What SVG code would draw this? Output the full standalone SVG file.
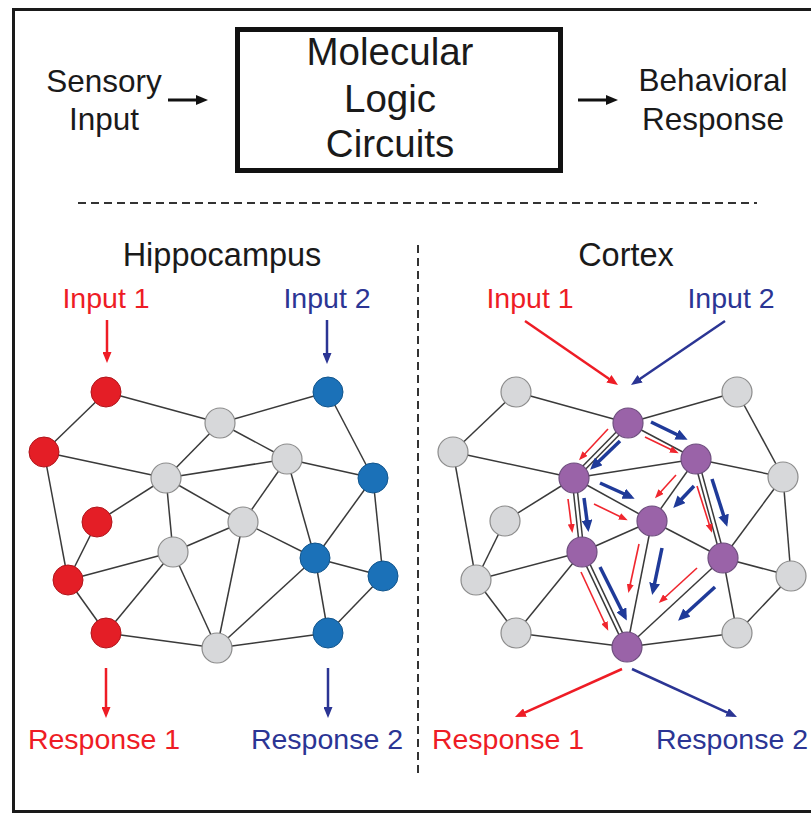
<svg xmlns="http://www.w3.org/2000/svg" width="811" height="815" viewBox="0 0 811 815">
<style>
text{font-family:"Liberation Sans",Arial,sans-serif;text-anchor:middle}
.big{font-size:38.5px;fill:#1a1a1a}
.side{font-size:31.5px;fill:#1a1a1a}
.head{font-size:32.5px;fill:#1a1a1a}
.lr{font-size:28.5px;fill:#ee1c25}
.lb{font-size:28.5px;fill:#2b3594}
.e{stroke:#3a3a3a;stroke-width:1.5;fill:none}
.dbo{stroke:#3a3a3a;stroke-width:5.5;fill:none}
.dbi{stroke:#fff;stroke-width:2.5;fill:none}
.r{fill:#e41e26;stroke:#b0151b;stroke-width:1}
.b{fill:#1b71b8;stroke:#12558c;stroke-width:1}
.g{fill:#d7d8da;stroke:#8c8c8c;stroke-width:1.2}
.p{fill:#9a63a8;stroke:#6e4e7e;stroke-width:1.2}
.ar{stroke:#f0262e;stroke-width:1.6;fill:none;marker-end:url(#mr)}
.ab{stroke:#1f3a99;stroke-width:3.5;fill:none;marker-end:url(#mb)}
.ir{stroke:#ee1c25;stroke-width:2.5;fill:none;marker-end:url(#mir)}
.ib{stroke:#2b3594;stroke-width:2.5;fill:none;marker-end:url(#mib)}
.ak{stroke:#111;stroke-width:3;fill:none;marker-end:url(#mk)}
</style>
<defs>
<marker id="mr" markerUnits="userSpaceOnUse" markerWidth="9" markerHeight="7" refX="6" refY="3.5" orient="auto"><path d="M0,0 L9,3.5 L0,7 z" fill="#f0262e"/></marker>
<marker id="mb" markerUnits="userSpaceOnUse" markerWidth="12" markerHeight="11" refX="8" refY="5.5" orient="auto"><path d="M0,0 L12,5.5 L0,11 z" fill="#1f3a99"/></marker>
<marker id="mir" markerUnits="userSpaceOnUse" markerWidth="11" markerHeight="9" refX="7" refY="4.5" orient="auto"><path d="M0,0 L11,4.5 L0,9 z" fill="#ee1c25"/></marker>
<marker id="mib" markerUnits="userSpaceOnUse" markerWidth="11" markerHeight="9" refX="7" refY="4.5" orient="auto"><path d="M0,0 L11,4.5 L0,9 z" fill="#2b3594"/></marker>
<marker id="mk" markerUnits="userSpaceOnUse" markerWidth="12" markerHeight="10" refX="6" refY="5" orient="auto"><path d="M0,0 L12,5 L0,10 z" fill="#111"/></marker>
</defs>
<rect x="0" y="0" width="811" height="815" fill="#fff"/>
<rect x="13.5" y="9.5" width="830" height="802" fill="none" stroke="#1a1a1a" stroke-width="3"/>

<g id="top">
<g id="sensory"><text class="side" x="104" y="92">Sensory</text><text class="side" x="104" y="130">Input</text></g>
<g id="box"><rect x="237.5" y="29.5" width="323" height="141" fill="none" stroke="#111" stroke-width="5"/>
<text class="big" x="390" y="65">Molecular</text><text class="big" x="390" y="112">Logic</text><text class="big" x="390" y="157">Circuits</text></g>
<g id="behavior"><text class="side" x="713" y="91">Behavioral</text><text class="side" x="713" y="130">Response</text></g>
</g>

<g id="dividers" stroke="#333" stroke-width="2" stroke-dasharray="8,5" fill="none">
<line x1="78" y1="203" x2="757" y2="203"/>
<line x1="418" y1="245" x2="418" y2="775"/>
</g>

<g id="titles">
<text class="head" x="222" y="266">Hippocampus</text>
<text class="head" x="626" y="266">Cortex</text>
</g>

<g id="connectors">
<line class="ak" x1="168" y1="100" x2="202" y2="100"/>
<line class="ak" x1="578" y1="100" x2="612" y2="100"/>
<g id="hippo-edges">
<line class="e" x1="106" y1="392" x2="220" y2="423"/>
<line class="e" x1="106" y1="392" x2="44" y2="452"/>
<line class="e" x1="44" y1="452" x2="166" y2="478"/>
<line class="e" x1="44" y1="452" x2="68" y2="580"/>
<line class="e" x1="97" y1="522" x2="166" y2="478"/>
<line class="e" x1="97" y1="522" x2="68" y2="580"/>
<line class="e" x1="68" y1="580" x2="173" y2="552"/>
<line class="e" x1="68" y1="580" x2="106" y2="633"/>
<line class="e" x1="106" y1="633" x2="173" y2="552"/>
<line class="e" x1="106" y1="633" x2="217" y2="648"/>
<line class="e" x1="220" y1="423" x2="328" y2="392"/>
<line class="e" x1="220" y1="423" x2="166" y2="478"/>
<line class="e" x1="220" y1="423" x2="287" y2="459"/>
<line class="e" x1="166" y1="478" x2="287" y2="459"/>
<line class="e" x1="166" y1="478" x2="243" y2="522"/>
<line class="e" x1="166" y1="478" x2="173" y2="552"/>
<line class="e" x1="287" y1="459" x2="373" y2="478"/>
<line class="e" x1="287" y1="459" x2="243" y2="522"/>
<line class="e" x1="287" y1="459" x2="315" y2="558"/>
<line class="e" x1="243" y1="522" x2="173" y2="552"/>
<line class="e" x1="243" y1="522" x2="315" y2="558"/>
<line class="e" x1="243" y1="522" x2="217" y2="648"/>
<line class="e" x1="173" y1="552" x2="217" y2="648"/>
<line class="e" x1="217" y1="648" x2="315" y2="558"/>
<line class="e" x1="217" y1="648" x2="328" y2="633"/>
<line class="e" x1="328" y1="392" x2="373" y2="478"/>
<line class="e" x1="373" y1="478" x2="315" y2="558"/>
<line class="e" x1="373" y1="478" x2="383" y2="576"/>
<line class="e" x1="315" y1="558" x2="383" y2="576"/>
<line class="e" x1="315" y1="558" x2="328" y2="633"/>
<line class="e" x1="383" y1="576" x2="328" y2="633"/>
</g>
<g id="cortex-edges">
<line class="e" x1="516" y1="392" x2="628" y2="423"/>
<line class="e" x1="516" y1="392" x2="453" y2="452"/>
<line class="e" x1="453" y1="452" x2="574" y2="478"/>
<line class="e" x1="453" y1="452" x2="476" y2="580"/>
<line class="e" x1="505" y1="521" x2="574" y2="478"/>
<line class="e" x1="505" y1="521" x2="476" y2="580"/>
<line class="e" x1="476" y1="580" x2="582" y2="552"/>
<line class="e" x1="476" y1="580" x2="516" y2="633"/>
<line class="e" x1="516" y1="633" x2="582" y2="552"/>
<line class="e" x1="516" y1="633" x2="627" y2="647"/>
<line class="e" x1="628" y1="423" x2="737" y2="392"/>
<line class="e" x1="628" y1="423" x2="696" y2="459"/>
<line class="e" x1="574" y1="478" x2="696" y2="459"/>
<line class="e" x1="574" y1="478" x2="652" y2="521"/>
<line class="e" x1="696" y1="459" x2="783" y2="477"/>
<line class="e" x1="696" y1="459" x2="652" y2="521"/>
<line class="e" x1="652" y1="521" x2="582" y2="552"/>
<line class="e" x1="652" y1="521" x2="723" y2="558"/>
<line class="e" x1="652" y1="521" x2="627" y2="647"/>
<line class="e" x1="627" y1="647" x2="723" y2="558"/>
<line class="e" x1="627" y1="647" x2="737" y2="633"/>
<line class="e" x1="737" y1="392" x2="783" y2="477"/>
<line class="e" x1="783" y1="477" x2="723" y2="558"/>
<line class="e" x1="783" y1="477" x2="791" y2="576"/>
<line class="e" x1="723" y1="558" x2="791" y2="576"/>
<line class="e" x1="723" y1="558" x2="737" y2="633"/>
<line class="e" x1="791" y1="576" x2="737" y2="633"/>
<line class="dbo" x1="628" y1="423" x2="574" y2="478"/>
<line class="dbo" x1="574" y1="478" x2="582" y2="552"/>
<line class="dbo" x1="696" y1="459" x2="723" y2="558"/>
<line class="dbo" x1="582" y1="552" x2="627" y2="647"/>
<line class="dbi" x1="628" y1="423" x2="574" y2="478"/>
<line class="dbi" x1="574" y1="478" x2="582" y2="552"/>
<line class="dbi" x1="696" y1="459" x2="723" y2="558"/>
<line class="dbi" x1="582" y1="552" x2="627" y2="647"/>
</g>
<g id="flow-blue">
<line class="ab" x1="651" y1="422" x2="684" y2="438"/>
<line class="ab" x1="620" y1="441" x2="593" y2="467"/>
<line class="ab" x1="600" y1="483" x2="631" y2="497"/>
<line class="ab" x1="584" y1="498" x2="588" y2="528"/>
<line class="ab" x1="694" y1="486" x2="676" y2="505"/>
<line class="ab" x1="712" y1="479" x2="726" y2="523"/>
<line class="ab" x1="662" y1="548" x2="653" y2="591"/>
<line class="ab" x1="715" y1="587" x2="681" y2="618"/>
<line class="ab" x1="600" y1="567" x2="625" y2="617"/>
</g>
<g id="flow-red">
<line class="ar" x1="645" y1="437" x2="676" y2="452"/>
<line class="ar" x1="608" y1="429" x2="581" y2="458"/>
<line class="ar" x1="594" y1="504" x2="625" y2="519"/>
<line class="ar" x1="568" y1="499" x2="572" y2="530"/>
<line class="ar" x1="676" y1="475" x2="657" y2="496"/>
<line class="ar" x1="697" y1="486" x2="711" y2="530"/>
<line class="ar" x1="639" y1="544" x2="629" y2="590"/>
<line class="ar" x1="697" y1="568" x2="661" y2="601"/>
<line class="ar" x1="581" y1="572" x2="607" y2="628"/>
</g>
<line class="ir" x1="107" y1="320" x2="107" y2="359"/>
<line class="ib" x1="327" y1="320" x2="327" y2="360"/>
<line class="ir" x1="106" y1="668" x2="106" y2="714"/>
<line class="ib" x1="328" y1="668" x2="328" y2="714"/>
<line class="ir" x1="525" y1="321" x2="614.7" y2="382.7"/>
<line class="ib" x1="725" y1="321" x2="634.3" y2="382.7"/>
<line class="ir" x1="622" y1="669" x2="518.6" y2="715.4"/>
<line class="ib" x1="632" y1="669" x2="733.4" y2="715.3"/>
</g>

<g id="hippo-nodes">
<g id="h-r1"><circle class="r" cx="106" cy="392" r="15"/></g>
<g id="h-r2"><circle class="r" cx="44" cy="452" r="15"/></g>
<g id="h-r3"><circle class="r" cx="97" cy="522" r="15"/></g>
<g id="h-r4"><circle class="r" cx="68" cy="580" r="15"/></g>
<g id="h-r5"><circle class="r" cx="106" cy="633" r="15"/></g>
<g id="h-g1"><circle class="g" cx="220" cy="423" r="15"/></g>
<g id="h-g2"><circle class="g" cx="287" cy="459" r="15"/></g>
<g id="h-g3"><circle class="g" cx="166" cy="478" r="15"/></g>
<g id="h-g4"><circle class="g" cx="243" cy="522" r="15"/></g>
<g id="h-g5"><circle class="g" cx="173" cy="552" r="15"/></g>
<g id="h-g6"><circle class="g" cx="217" cy="648" r="15"/></g>
<g id="h-b1"><circle class="b" cx="328" cy="392" r="15"/></g>
<g id="h-b2"><circle class="b" cx="373" cy="478" r="15"/></g>
<g id="h-b3"><circle class="b" cx="315" cy="558" r="15"/></g>
<g id="h-b4"><circle class="b" cx="383" cy="576" r="15"/></g>
<g id="h-b5"><circle class="b" cx="328" cy="633" r="15"/></g>
</g>

<g id="cortex-nodes">
<g id="c-g1"><circle class="g" cx="516" cy="392" r="15"/></g>
<g id="c-g2"><circle class="g" cx="453" cy="452" r="15"/></g>
<g id="c-g3"><circle class="g" cx="505" cy="521" r="15"/></g>
<g id="c-g4"><circle class="g" cx="476" cy="580" r="15"/></g>
<g id="c-g5"><circle class="g" cx="516" cy="633" r="15"/></g>
<g id="c-g6"><circle class="g" cx="737" cy="392" r="15"/></g>
<g id="c-g7"><circle class="g" cx="783" cy="477" r="15"/></g>
<g id="c-g8"><circle class="g" cx="791" cy="576" r="15"/></g>
<g id="c-g9"><circle class="g" cx="737" cy="633" r="15"/></g>
<g id="c-p1"><circle class="p" cx="628" cy="423" r="15"/></g>
<g id="c-p2"><circle class="p" cx="696" cy="459" r="15"/></g>
<g id="c-p3"><circle class="p" cx="574" cy="478" r="15"/></g>
<g id="c-p4"><circle class="p" cx="652" cy="521" r="15"/></g>
<g id="c-p5"><circle class="p" cx="582" cy="552" r="15"/></g>
<g id="c-p6"><circle class="p" cx="723" cy="558" r="15"/></g>
<g id="c-p7"><circle class="p" cx="627" cy="647" r="15"/></g>
</g>

<g id="labels">
<g id="h-in1"><text class="lr" x="106" y="308">Input 1</text></g>
<g id="h-in2"><text class="lb" x="327" y="308">Input 2</text></g>
<g id="c-in1"><text class="lr" x="530" y="308">Input 1</text></g>
<g id="c-in2"><text class="lb" x="731" y="308">Input 2</text></g>
<g id="h-out1"><text class="lr" x="104" y="749">Response 1</text></g>
<g id="h-out2"><text class="lb" x="327" y="749">Response 2</text></g>
<g id="c-out1"><text class="lr" x="508" y="749">Response 1</text></g>
<g id="c-out2"><text class="lb" x="732" y="749">Response 2</text></g>
</g>
</svg>
